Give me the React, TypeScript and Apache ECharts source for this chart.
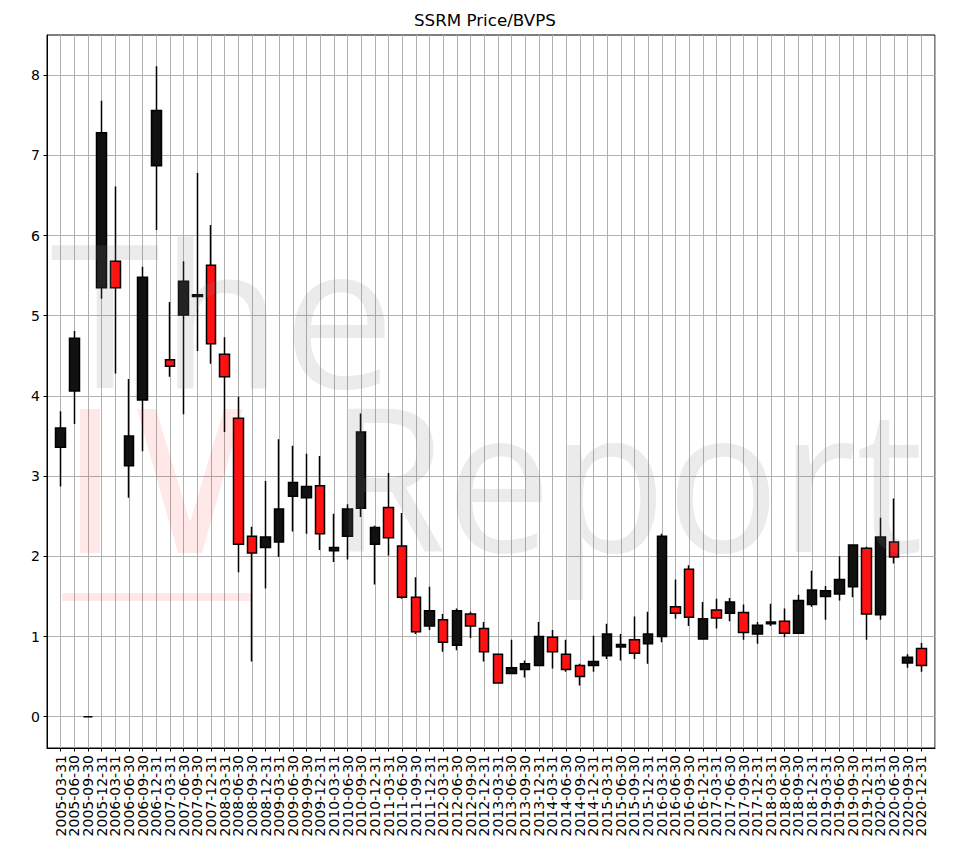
import React, { useEffect, useRef } from "react";
import * as echarts from "echarts";

const dates = [
  "2005-03-31", "2005-06-30", "2005-09-30", "2005-12-31",
  "2006-03-31", "2006-06-30", "2006-09-30", "2006-12-31",
  "2007-03-31", "2007-06-30", "2007-09-30", "2007-12-31",
  "2008-03-31", "2008-06-30", "2008-09-30", "2008-12-31",
  "2009-03-31", "2009-06-30", "2009-09-30", "2009-12-31",
  "2010-03-31", "2010-06-30", "2010-09-30", "2010-12-31",
  "2011-03-31", "2011-06-30", "2011-09-30", "2011-12-31",
  "2012-03-31", "2012-06-30", "2012-09-30", "2012-12-31",
  "2013-03-31", "2013-06-30", "2013-09-30", "2013-12-31",
  "2014-03-31", "2014-06-30", "2014-09-30", "2014-12-31",
  "2015-03-31", "2015-06-30", "2015-09-30", "2015-12-31",
  "2016-03-31", "2016-06-30", "2016-09-30", "2016-12-31",
  "2017-03-31", "2017-06-30", "2017-09-30", "2017-12-31",
  "2018-03-31", "2018-06-30", "2018-09-30", "2018-12-31",
  "2019-03-31", "2019-06-30", "2019-09-30", "2019-12-31",
  "2020-03-31", "2020-06-30", "2020-09-30", "2020-12-31",
];

const opens = [
  3.36, 4.06, 0, 5.35, 5.68, 3.13, 3.95, 6.87,
  4.45, 5.01, 5.24, 5.63, 4.52, 3.72, 2.25, 2.11,
  2.18, 2.75, 2.73, 2.88, 2.07, 2.25, 2.60, 2.15,
  2.61, 2.13, 1.49, 1.13, 1.21, 0.89, 1.28, 1.10,
  0.78, 0.54, 0.59, 0.64, 0.99, 0.78, 0.64, 0.64,
  0.76, 0.87, 0.96, 0.91, 1.00, 1.37, 1.84, 0.97,
  1.33, 1.29, 1.30, 1.03, 1.16, 1.19, 1.04, 1.40,
  1.50, 1.53, 1.62, 2.10, 1.27, 2.18, 0.67, 0.85,
];
const closes = [
  3.60, 4.72, 0, 7.28, 5.35, 3.50, 5.48, 7.56,
  4.37, 5.43, 5.26, 4.65, 4.24, 2.15, 2.04, 2.24,
  2.59, 2.92, 2.87, 2.28, 2.11, 2.59, 3.55, 2.36,
  2.23, 1.49, 1.06, 1.32, 0.93, 1.32, 1.13, 0.81,
  0.42, 0.61, 0.66, 1.00, 0.81, 0.59, 0.50, 0.69,
  1.03, 0.90, 0.79, 1.03, 2.25, 1.29, 1.24, 1.22,
  1.23, 1.43, 1.05, 1.14, 1.18, 1.04, 1.45, 1.58,
  1.57, 1.71, 2.14, 1.28, 2.24, 1.99, 0.74, 0.64,
];
const lows = [
  2.87, 3.65, 0, 5.21, 4.28, 2.73, 3.31, 6.07,
  4.24, 3.77, 4.56, 4.40, 3.55, 1.80, 0.69, 1.60,
  1.99, 2.31, 2.28, 2.08, 1.93, 1.96, 2.49, 1.65,
  2.01, 1.47, 1.03, 1.08, 0.81, 0.83, 0.98, 0.69,
  0.41, 0.54, 0.49, 0.64, 0.60, 0.56, 0.39, 0.56,
  0.72, 0.70, 0.72, 0.66, 0.93, 1.22, 1.13, 0.97,
  1.10, 1.19, 0.96, 0.91, 1.13, 0.99, 1.04, 1.37,
  1.21, 1.45, 1.49, 0.96, 1.21, 1.91, 0.61, 0.56,
];
const highs = [
  3.81, 4.81, 0, 7.68, 6.61, 4.21, 5.61, 8.11,
  5.17, 5.68, 6.78, 6.13, 4.73, 3.99, 2.37, 2.94,
  3.46, 3.38, 3.28, 3.25, 2.53, 2.65, 3.78, 2.38,
  3.04, 2.54, 1.74, 1.62, 1.28, 1.35, 1.31, 1.18,
  0.78, 0.96, 0.70, 1.18, 1.08, 0.96, 0.66, 1.01,
  1.16, 1.03, 1.25, 1.31, 2.28, 1.71, 1.89, 1.43,
  1.47, 1.48, 1.40, 1.18, 1.41, 1.35, 1.52, 1.82,
  1.63, 2.00, 2.14, 2.12, 2.48, 2.72, 0.78, 0.92,
];

const yTicks = [0, 1, 2, 3, 4, 5, 6, 7, 8];

const FONT = "DejaVu Sans";

export default function App() {
  const ref = useRef<HTMLDivElement>(null);

  useEffect(() => {
    if (!ref.current) return;
    const chart = echarts.init(ref.current, null, { renderer: "svg" });
    const cats = ["", ...dates, ""];
    const empty = ["-", "-", "-", "-"];
    const data = [
      empty,
      ...dates.map((_, i) => [opens[i], closes[i], lows[i], highs[i]]),
      empty,
    ];
    const last = cats.length - 1;
    const grey = "rgba(128,128,128,0.16)";
    const pink = "rgba(255,0,0,0.09)";

    chart.setOption({
      animation: false,
      backgroundColor: "#fff",
      title: {
        text: "SSRM Price/BVPS",
        left: 414,
        top: 11,
        padding: 0,
        textStyle: { fontFamily: FONT, fontSize: 16.7, fontWeight: "normal", color: "#000" },
      },
      grid: {
        left: 47,
        top: 35,
        width: 888,
        height: 713,
        show: true,
        borderColor: "#000",
        borderWidth: 1,
        containLabel: false,
      },
      xAxis: {
        type: "category",
        data: cats,
        boundaryGap: false,
        axisLine: { show: true, onZero: false, lineStyle: { color: "#000", width: 1 } },
        axisTick: {
          show: true,
          length: 3.5,
          interval: (idx: number) => idx > 0 && idx < last,
          lineStyle: { color: "#000", width: 1 },
        },
        axisLabel: {
          interval: 0,
          rotate: 90,
          margin: 7,
          fontFamily: FONT,
          fontSize: 14,
          color: "#000",
        },
        splitLine: { show: true, interval: 0, lineStyle: { color: "#b0b0b0", width: 1 } },
      },
      yAxis: {
        type: "value",
        min: -0.39,
        max: 8.5,
        axisLine: { show: true, lineStyle: { color: "#000", width: 1 } },
        axisTick: {
          show: true,
          length: 3.5,
          customValues: yTicks,
          lineStyle: { color: "#000", width: 1 },
        },
        axisLabel: {
          customValues: yTicks,
          margin: 7,
          fontFamily: FONT,
          fontSize: 14,
          color: "#000",
        },
        splitLine: { show: true, lineStyle: { color: "#b0b0b0", width: 1 } },
      },
      series: [
        {
          type: "candlestick",
          data,
          barWidth: 10,
          itemStyle: {
            color: "#111111",
            color0: "#ff1111",
            borderColor: "#000000",
            borderColor0: "#000000",
            borderWidth: 1.5,
          },
        },
      ],
      graphic: [
        {
          type: "text",
          z: 100,
          x: 50,
          y: 310,
          silent: true,
          style: {
            text: "The",
            fontFamily: "Open Sans",
            fontSize: 200,
            fill: grey,
            verticalAlign: "middle",
            align: "left",
          },
        },
        {
          type: "text",
          z: 100,
          x: 330,
          y: 475,
          scaleX: 0.94,
          silent: true,
          style: {
            text: "Report",
            fontFamily: "Open Sans",
            fontSize: 200,
            fill: grey,
            verticalAlign: "middle",
            align: "left",
          },
        },
        {
          type: "rect",
          z: 100,
          silent: true,
          shape: { x: 80, y: 409, width: 20, height: 144 },
          style: { fill: pink },
        },
        {
          type: "polygon",
          z: 100,
          silent: true,
          shape: {
            points: [
              [137, 409], [156, 409], [190, 522], [224, 409], [243, 409], [202, 553], [178, 553],
            ],
          },
          style: { fill: pink },
        },
        {
          type: "rect",
          z: 100,
          silent: true,
          shape: { x: 62, y: 593, width: 189, height: 8 },
          style: { fill: pink },
        },
      ],
    });

    return () => chart.dispose();
  }, []);

  return (
    <div
      ref={ref}
      style={{ position: "absolute", left: 0, top: 0, width: 961, height: 851 }}
    />
  );
}
